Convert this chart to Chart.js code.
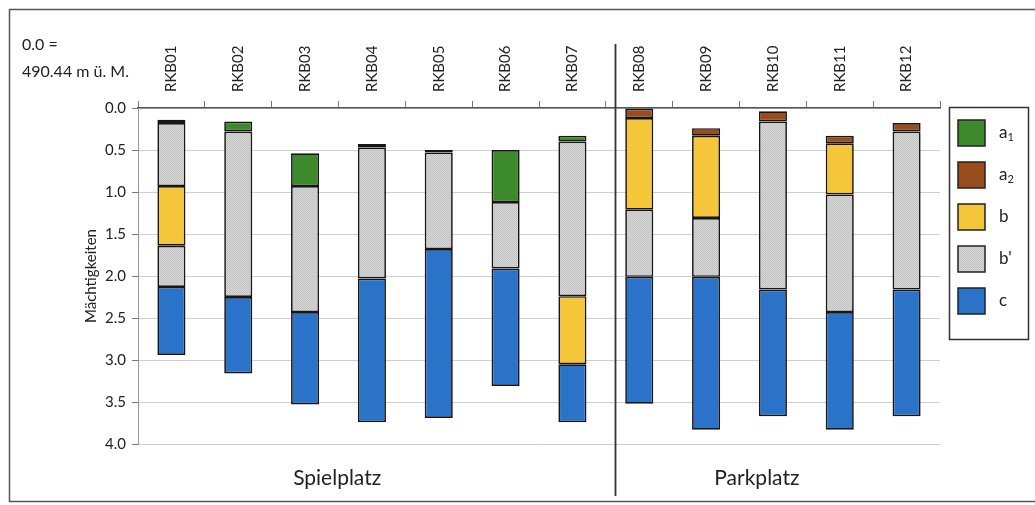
<!DOCTYPE html>
<html>
<head>
<meta charset="utf-8">
<script src="https://cdn.jsdelivr.net/npm/chart.js@4.4.0/dist/chart.umd.min.js"></script>
<style>
  html, body { margin: 0; padding: 0; background: #fff; }
  #wrap { width: 1035px; height: 505px; }
</style>
</head>
<body>
<div id="wrap"><canvas id="profile"></canvas></div>
<script>
// borehole names and depth ranges [top, bottom] in m below 490.44 m ü. M.
const boreholes = ['RKB01', 'RKB02', 'RKB03', 'RKB04', 'RKB05', 'RKB06',
                   'RKB07', 'RKB08', 'RKB09', 'RKB10', 'RKB11', 'RKB12'];
const a1Layer = [[0.14, 0.18], [0.16, 0.28], [0.54, 0.93], [0.43, 0.47], [0.50, 0.53], [0.50, 1.12],
                 [0.33, 0.40], null, null, null, null, null];
const a2Layer = [null, null, null, null, null, null,
                 null, [0.0, 0.12], [0.24, 0.33], [0.04, 0.16], [0.33, 0.42], [0.18, 0.28]];
const bLayer = [[0.93, 1.64], null, null, null, null, null,
                [2.24, 3.05], [0.12, 1.21], [0.33, 1.31], null, [0.42, 1.03], null];
const bPrimeLayer = [[0.18, 0.93], [0.28, 2.25], [0.93, 2.43], [0.47, 2.03], [0.53, 1.68], [1.12, 1.91],
                     [0.40, 2.24], [1.21, 2.01], [1.31, 2.01], [0.16, 2.16], [1.03, 2.43], [0.28, 2.16]];
const bPrimeLower = [[1.64, 2.13], null, null, null, null, null,
                     null, null, null, null, null, null];
const cLayer = [[2.13, 2.94], [2.25, 3.16], [2.43, 3.53], [2.03, 3.74], [1.68, 3.69], [1.91, 3.31],
                [3.05, 3.74], [2.01, 3.52], [2.01, 3.83], [2.16, 3.67], [2.43, 3.83], [2.16, 3.67]];
const depthTicks = [0, 0.5, 1.0, 1.5, 2.0, 2.5, 3.0, 3.5, 4.0];
const legendNames = ['a', 'a', 'b', "b'", 'c'];
const legendSubs = ['1', '2', '', '', ''];
const areaLabels = ['Spielplatz', 'Parkplatz'];

const FONT = "Lato, 'Open Sans', sans-serif";

// grey fine-dotted fill for b'
function dottedGrey() {
    const p = document.createElement('canvas');
    p.width = 2; p.height = 2;
    const g = p.getContext('2d');
    g.fillStyle = '#d5d5d5';
    g.fillRect(0, 0, 2, 2);
    g.fillStyle = '#c4c4c4';
    g.fillRect(0, 0, 1, 1);
    g.fillRect(1, 1, 1, 1);
    return g.createPattern(p, 'repeat');
}
const greyFill = dottedGrey();

const colours = ['#3c8a2c', '#9a4d1c', '#f5c63a', greyFill, '#2b72c9'];

function layer(data, fill) {
    return {
        data: data,
        backgroundColor: fill,
        borderColor: '#161616',
        borderWidth: 1.7,
        borderSkipped: false,
        barPercentage: 0.42,
        categoryPercentage: 1.0,
        grouped: false
    };
}

const decorations = {
    id: 'decorations',
    afterDraw(chart) {
        const ctx = chart.ctx;
        const x = chart.scales.x;
        ctx.save();

        // outer frame
        ctx.strokeStyle = '#555';
        ctx.lineWidth = 1.5;
        ctx.strokeRect(9.5, 9.5, 1040, 492);

        // divider between the two sites
        const dx = Math.round(x.getPixelForValue(6.63)) + 0.5;
        ctx.strokeStyle = '#333';
        ctx.lineWidth = 1.8;
        ctx.beginPath();
        ctx.moveTo(dx, 44);
        ctx.lineTo(dx, 496);
        ctx.stroke();

        // site names
        ctx.fillStyle = '#222';
        ctx.font = '21px ' + FONT;
        ctx.textAlign = 'center';
        ctx.textBaseline = 'middle';
        ctx.fillText(areaLabels[0], x.getPixelForValue(2.48), 478);
        ctx.fillText(areaLabels[1], x.getPixelForValue(8.76), 478);

        // reference height note
        ctx.font = '16px ' + FONT;
        ctx.textAlign = 'left';
        ctx.fillText('0.0 =', 22, 45);
        ctx.fillText('490.44 m ü. M.', 22, 72);

        // legend
        ctx.strokeStyle = '#333';
        ctx.lineWidth = 1.5;
        ctx.strokeRect(949.5, 107.5, 79, 232);
        for (let i = 0; i < legendNames.length; i++) {
            const cy = 133 + i * 42;
            ctx.fillStyle = colours[i];
            ctx.fillRect(958, cy - 13, 27, 26);
            ctx.strokeStyle = '#222';
            ctx.lineWidth = 1.5;
            ctx.strokeRect(958, cy - 13, 27, 26);
            ctx.fillStyle = '#222';
            ctx.font = '17px ' + FONT;
            ctx.textAlign = 'left';
            ctx.fillText(legendNames[i], 999, cy);
            if (legendSubs[i]) {
                const w = ctx.measureText(legendNames[i]).width;
                ctx.font = '11px ' + FONT;
                ctx.fillText(legendSubs[i], 999 + w, cy + 4);
            }
        }
        ctx.restore();
    }
};

new Chart(document.getElementById('profile'), {
    type: 'bar',
    data: {
        labels: boreholes,
        datasets: [
            layer(a1Layer, colours[0]),
            layer(a2Layer, colours[1]),
            layer(bLayer, colours[2]),
            layer(bPrimeLayer, colours[3]),
            layer(bPrimeLower, colours[3]),
            layer(cLayer, colours[4])
        ]
    },
    options: {
        responsive: true,
        maintainAspectRatio: false,
        animation: false,
        layout: { padding: { left: 80, top: 40, right: 95, bottom: 61 } },
        plugins: {
            legend: { display: false },
            tooltip: { enabled: false }
        },
        scales: {
            x: {
                position: 'top',
                afterFit: (s) => { s.height = 68; },
                grid: {
                    display: true,
                    drawOnChartArea: false,
                    drawTicks: true,
                    tickLength: 7,
                    offset: true,
                    color: '#777'
                },
                border: { display: true, color: '#555', width: 1.5 },
                ticks: {
                    autoSkip: false,
                    minRotation: 90,
                    maxRotation: 90,
                    padding: 9,
                    labelOffset: 18,
                    color: '#222',
                    font: { family: FONT, size: 15 }
                }
            },
            y: {
                reverse: true,
                min: 0,
                max: 4,
                afterFit: (s) => { s.width = 58; },
                afterBuildTicks: (s) => { s.ticks = depthTicks.map(v => ({ value: v })); },
                grid: {
                    color: '#cfcfcf',
                    tickColor: '#777',
                    tickLength: 6,
                    lineWidth: 1
                },
                border: { display: true, color: '#999', width: 1 },
                ticks: {
                    padding: 6,
                    color: '#222',
                    font: { family: FONT, size: 15 },
                    callback: (v) => Number(v).toFixed(1)
                },
                title: {
                    display: true,
                    text: 'Mächtigkeiten',
                    color: '#222',
                    font: { family: FONT, size: 15 },
                    padding: { top: 2, bottom: 0 }
                }
            }
        }
    },
    plugins: [decorations]
});
</script>
</body>
</html>
